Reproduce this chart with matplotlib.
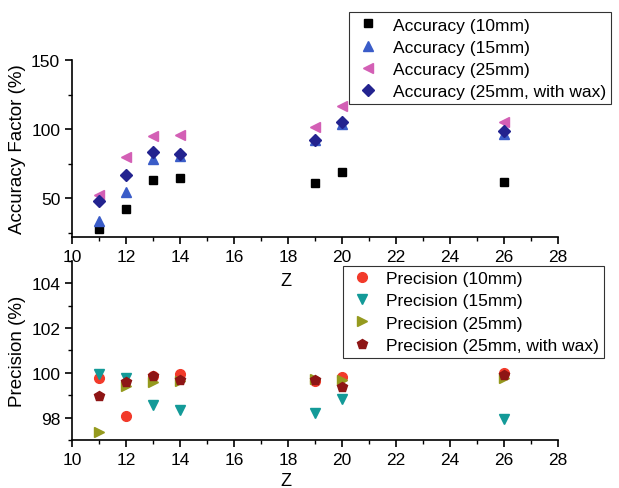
import numpy as np
import matplotlib
matplotlib.use("Agg")
import matplotlib.pyplot as plt
from matplotlib.ticker import MultipleLocator

plt.rcParams["font.family"] = ["Liberation Sans", "DejaVu Sans"]

# element number Z
z = [11, 12, 13, 14, 19, 20, 26]

# accuracy factor (%)
acc_10 = [27.5, 42.5, 63.3, 64.5, 61.4, 69.0, 61.8]
acc_15 = [33.6, 54.6, 78.7, 80.7, 92.0, 104.0, 96.4]
acc_25 = [52.2, 80.0, 95.1, 95.6, 101.2, 116.4, 104.8]
acc_25w = [48.0, 66.9, 83.1, 81.9, 92.3, 104.8, 98.8]

# precision (%)
prec_10 = [99.77, 98.05, 99.85, 99.95, 99.65, 99.80, 99.98]
prec_15 = [99.95, 99.76, 98.55, 98.33, 98.22, 98.83, 97.95]
prec_25 = [97.35, 99.43, 99.58, 99.65, 99.73, 99.70, 99.76]
prec_25w = [98.95, 99.60, 99.85, 99.70, 99.70, 99.35, 99.90]

fig = plt.figure(figsize=(6.19, 4.89), dpi=100)
ax1 = fig.add_axes([0.1163, 0.5133, 0.7852, 0.362])
ax2 = fig.add_axes([0.1163, 0.0982, 0.7852, 0.366])

ms = 7
ax1.plot(z, acc_10, "s", color="black", ms=ms-1, label="Accuracy (10mm)")
ax1.plot(z, acc_15, "^", color="#3a5cc8", ms=ms, label="Accuracy (15mm)")
ax1.plot(z, acc_25, "<", color="#d35fb5", ms=ms, label="Accuracy (25mm)")
ax1.plot(z, acc_25w, "D", color="#23238f", ms=ms-1, label="Accuracy (25mm, with wax)")

ax2.plot(z, prec_10, "o", color="#f23a2a", ms=ms, label="Precision (10mm)")
ax2.plot(z, prec_15, "v", color="#139a98", ms=ms, label="Precision (15mm)")
ax2.plot(z, prec_25, ">", color="#959a1e", ms=ms, label="Precision (25mm)")
ax2.plot(z, prec_25w, "p", color="#8e1515", ms=ms, label="Precision (25mm, with wax)")

ax1.set_ylim(22, 150)
ax2.set_ylim(97, 105)
ax1.yaxis.set_major_locator(MultipleLocator(50))
ax1.yaxis.set_minor_locator(MultipleLocator(25))
ax2.yaxis.set_major_locator(MultipleLocator(2))
ax2.yaxis.set_minor_locator(MultipleLocator(1))

for ax in (ax1, ax2):
    ax.set_xlim(10, 28)
    ax.xaxis.set_major_locator(MultipleLocator(2))
    ax.xaxis.set_minor_locator(MultipleLocator(1))
    ax.spines["top"].set_visible(False)
    ax.spines["right"].set_visible(False)
    ax.spines["left"].set_linewidth(1.2)
    ax.spines["bottom"].set_linewidth(1.2)
    ax.tick_params(which="major", direction="out", length=5, width=1.2, labelsize=12.5)
    ax.tick_params(which="minor", direction="out", length=3, width=1.0)
    ax.patch.set_alpha(0)

ax1.set_xlabel("Z", fontsize=13, labelpad=6, x=0.44)
ax2.set_xlabel("Z", fontsize=13, labelpad=4, x=0.44)
ax1.set_ylabel("Accuracy Factor (%)", fontsize=13.5)
ax2.set_ylabel("Precision (%)", fontsize=13.5)

leg_kw = dict(bbox_transform=fig.transFigure, fontsize=12.5, frameon=True, fancybox=False,
              edgecolor="black", borderpad=0.3, labelspacing=0.4, handlelength=1.6,
              handletextpad=0.6, borderaxespad=0, loc="upper left")
leg1 = ax1.legend(bbox_to_anchor=(0.564, 0.973), **leg_kw)
leg1.get_frame().set_linewidth(0.8)
leg2 = ax2.legend(bbox_to_anchor=(0.554, 0.454), **leg_kw)
leg2.get_frame().set_linewidth(0.8)

fig.savefig("out.png", dpi=100)
